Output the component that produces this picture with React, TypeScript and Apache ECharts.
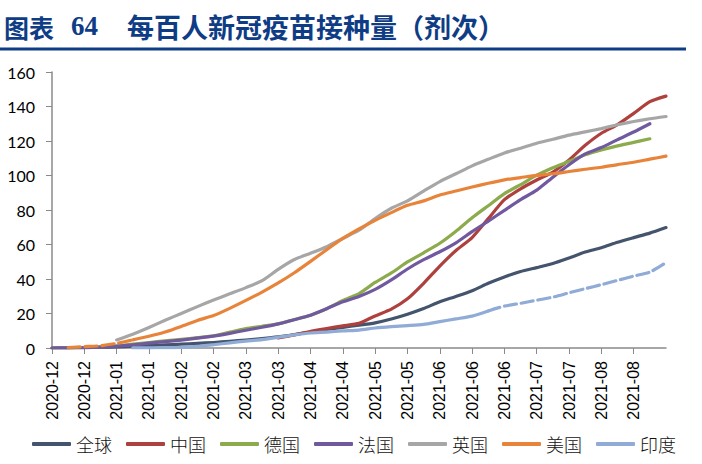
import { useEffect, useRef } from 'react';
import * as echarts from 'echarts';

// weekly sampling dates (category axis)
const dates = [
  '2020-12-15', '2020-12-22', '2020-12-29', '2021-01-05', '2021-01-12', '2021-01-19', '2021-01-26',
  '2021-02-02', '2021-02-09', '2021-02-16', '2021-02-23', '2021-03-02', '2021-03-09', '2021-03-16',
  '2021-03-23', '2021-03-30', '2021-04-06', '2021-04-13', '2021-04-20', '2021-04-27', '2021-05-04',
  '2021-05-11', '2021-05-18', '2021-05-25', '2021-06-01', '2021-06-08', '2021-06-15', '2021-06-22',
  '2021-06-29', '2021-07-06', '2021-07-13', '2021-07-20', '2021-07-27', '2021-08-03', '2021-08-10',
  '2021-08-17', '2021-08-24', '2021-08-31', '2021-09-07',
];

const legendNames = ['全球', '中国', '德国', '法国', '英国', '美国', '印度'];

const globalData = [
  0, 0.1, 0.2, 0.4, 0.7, 1.0, 1.4, 1.8, 2.2, 2.7, 3.2, 3.9, 4.6, 5.4, 6.4, 7.8, 9.3, 10.8, 12.0, 13.2,
  14.6, 16.8, 19.6, 22.9, 26.8, 29.9, 33.2, 37.5, 41.2, 44.3, 46.6, 49.0, 52.2, 55.6, 58.1, 61.3, 64.0,
  66.6, 69.8,
];

const chinaData = [
  null, null, null, null, null, null, null, null, null, null, null, null, null, null, 5.8, 7.6, 9.6,
  11.3, 12.8, 14.3, 18.6, 22.5, 28.5, 37.5, 47.5, 56.5, 64.0, 75.0, 86.0, 92.3, 97.4, 102.0, 109.0,
  117.5, 124.5, 129.5, 136.0, 142.8, 146.0,
];

const germanyData = [
  0, 0.1, 0.3, 0.6, 1.3, 2.2, 3.2, 4.1, 5.0, 6.0, 7.1, 9.2, 11.2, 12.6, 14.0, 16.5, 19.0, 22.8, 27.5,
  31.5, 38.0, 43.5, 49.9, 55.2, 60.7, 67.7, 75.5, 82.5, 89.5, 94.7, 100.2, 104.5, 108.2, 112.0, 114.8,
  117.2, 119.2, 121.3, null,
];

const franceData = [
  0, 0.1, 0.2, 0.5, 1.0, 1.8, 2.8, 3.7, 4.6, 5.7, 6.9, 8.5, 10.3, 12.0, 14.0, 16.4, 19.0, 22.8, 26.8,
  29.9, 34.0, 39.5, 45.8, 51.2, 55.8, 61.0, 67.5, 73.5, 79.8, 86.0, 91.5, 99.0, 106.2, 112.5, 116.2,
  120.8, 125.2, 130.0, null,
];

const ukData = [
  null, null, null, null, 4.7, 8.0, 11.9, 16.1, 20.0, 24.0, 27.8, 31.4, 35.0, 39.0, 45.6, 51.3, 54.9,
  58.7, 63.5, 68.3, 75.0, 81.0, 85.3, 91.0, 96.5, 101.0, 105.6, 109.4, 113.1, 115.8, 118.7, 121.0,
  123.4, 125.3, 127.2, 129.4, 131.3, 132.9, 134.2,
];

const usData = [
  null, 0.3, 0.8, 1.3, 2.7, 4.7, 6.8, 9.3, 12.5, 16.0, 18.8, 23.0, 27.6, 32.4, 37.7, 43.6, 50.2, 57.0,
  63.5, 69.0, 74.0, 78.5, 82.7, 85.3, 88.7, 91.0, 93.3, 95.5, 97.5, 98.8, 100.1, 101.0, 102.3, 103.6,
  104.8, 106.3, 107.7, 109.5, 111.2,
];

const indiaData = [
  null, null, null, null, null, 0.05, 0.1, 0.2, 0.4, 0.9, 1.9, 3.0, 4.0, 4.9, 6.2, 7.6, 8.7, 9.2, 9.9,
  10.4, 11.6, 12.4, 13.0, 13.7, 15.3, 16.9, 18.5, 21.5, 24.3, 25.9, 27.7, 29.5, 32.0, 34.4, 36.7, 39.2,
  41.7, 44.0, 49.5,
];

// where the broken (dashed) parts of the US and India lines end / start
const US_DASH_END = 5;
const INDIA_DASH_START = 27;

const colors: Record<string, string> = {
  全球: '#44546c',
  中国: '#ae413d',
  德国: '#8cab4c',
  法国: '#7159a0',
  英国: '#a6a6a6',
  美国: '#e8843a',
  印度: '#8fabd6',
};

const titleBlue = '#0f3d85';

export default function App() {
  const ref = useRef<HTMLDivElement>(null);

  useEffect(() => {
    if (!ref.current) return;
    const chart = echarts.init(ref.current, undefined, { renderer: 'svg' });

    const lineSeries = (name: string, data: (number | null)[], dashed = false) => ({
      name,
      type: 'line',
      data,
      showSymbol: false,
      symbol: 'none',
      smooth: 0.2,
      connectNulls: false,
      color: colors[name],
      lineStyle: {
        width: 3.2,
        color: colors[name],
        cap: 'round',
        join: 'round',
        type: dashed ? [12, 5] : 'solid',
      },
      emphasis: { disabled: true },
    });

    const usSolid = usData.map((v, i) => (i >= US_DASH_END ? v : null));
    const usDash = usData.map((v, i) => (i <= US_DASH_END ? v : null));
    const indiaSolid = indiaData.map((v, i) => (i <= INDIA_DASH_START ? v : null));
    const indiaDash = indiaData.map((v, i) => (i >= INDIA_DASH_START ? v : null));

    const showTick = (index: number) => index % 2 === 0 && index < dates.length - 1;

    const option: any = {
      animation: false,
      backgroundColor: '#ffffff',
      graphic: [
        {
          type: 'text',
          left: 4,
          top: 14,
          style: {
            text: '图表',
            fontSize: 25,
            fontWeight: 'bold',
            fontFamily: 'Noto Sans CJK SC',
            fill: titleBlue,
          },
        },
        {
          type: 'text',
          left: 71,
          top: 12,
          style: {
            text: '64',
            fontSize: 27,
            fontWeight: 'bold',
            fontFamily: 'Liberation Serif',
            fill: titleBlue,
          },
        },
        {
          type: 'text',
          left: 127,
          top: 13,
          style: {
            text: '每百人新冠疫苗接种量（剂次）',
            fontSize: 27,
            fontWeight: 'bold',
            fontFamily: 'Noto Sans CJK SC',
            fill: titleBlue,
          },
        },
        {
          type: 'rect',
          shape: { x: 0, y: 47.5, width: 686, height: 3 },
          style: { fill: titleBlue },
        },
      ],
      legend: {
        data: legendNames,
        left: 27,
        top: 430,
        icon: 'roundRect',
        itemWidth: 39,
        itemHeight: 4,
        itemGap: 14,
        textStyle: { fontSize: 18, color: '#111', fontFamily: 'Noto Sans CJK SC', fontWeight: 300 },
      },
      grid: { left: 52, right: 36, top: 72, bottom: 116 },
      xAxis: {
        type: 'category',
        data: dates,
        boundaryGap: false,
        axisLine: { lineStyle: { color: '#8a8a8a', width: 1.5 } },
        axisTick: { show: true, interval: showTick, length: 6, lineStyle: { color: '#8a8a8a' } },
        axisLabel: {
          interval: showTick,
          rotate: 90,
          margin: 13,
          fontSize: 16,
          color: '#000',
          fontFamily: 'Liberation Sans',
          formatter: (v: string) => v.slice(0, 7),
        },
        splitLine: { show: false },
      },
      yAxis: {
        type: 'value',
        min: 0,
        max: 160,
        interval: 20,
        axisLine: { show: true, lineStyle: { color: '#8a8a8a', width: 1.5 } },
        axisTick: { show: true, length: 6, lineStyle: { color: '#8a8a8a' } },
        axisLabel: { margin: 17, fontSize: 16, color: '#000', fontFamily: 'Lato' },
        splitLine: { show: false },
      },
      series: [
        lineSeries('全球', globalData),
        lineSeries('中国', chinaData),
        lineSeries('德国', germanyData),
        lineSeries('法国', franceData),
        lineSeries('英国', ukData),
        lineSeries('美国', usSolid),
        lineSeries('美国', usDash, true),
        lineSeries('印度', indiaSolid),
        lineSeries('印度', indiaDash, true),
      ],
    };

    chart.setOption(option);
    return () => chart.dispose();
  }, []);

  return (
    <div
      ref={ref}
      style={{ position: 'absolute', left: 0, top: 0, width: 702, height: 464 }}
    />
  );
}
